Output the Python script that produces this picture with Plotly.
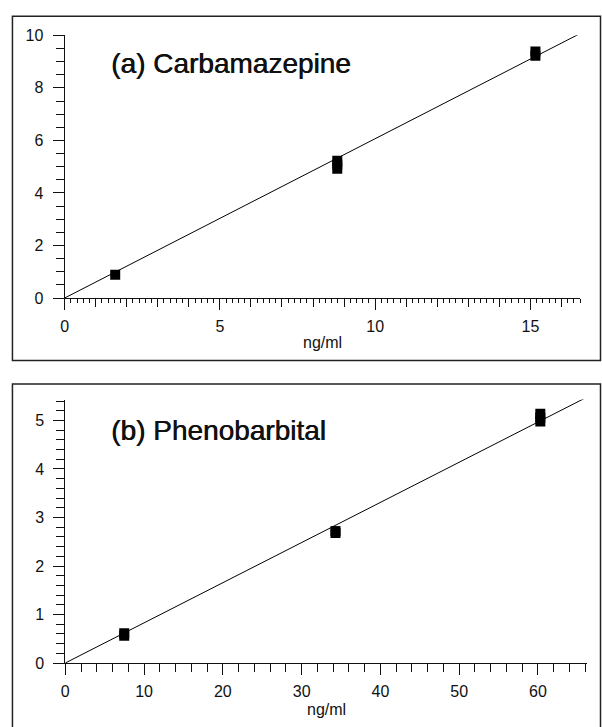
import plotly.graph_objects as go

W, H = 602, 727

# ---- data: (a) Carbamazepine ----
carb_x = [1.63, 8.78, 8.78, 8.78, 15.16, 15.16]
carb_y = [0.89, 4.92, 5.08, 5.23, 9.22, 9.39]
carb_fit_x = [0, 16.6]
carb_fit_y = [0, 10.07]

# ---- data: (b) Phenobarbital ----
phen_x = [7.48, 7.48, 34.3, 34.3, 60.3, 60.3, 60.3]
phen_y = [0.56, 0.615, 2.68, 2.72, 4.98, 5.06, 5.14]
phen_fit_x = [0, 66.2]
phen_fit_y = [0, 5.48]

titles = ["(a) Carbamazepine", "(b) Phenobarbital"]
x_label = "ng/ml"

FONT = "Liberation Sans, Arial, Helvetica, sans-serif"
INK = "#111111"


def px_x(p):
    return p / W


def px_y(p):
    return 1 - p / H


fig = go.Figure()

marker = dict(symbol="square", size=10, color="black", line=dict(width=0))
line = dict(color="black", width=1)

fig.add_trace(go.Scatter(x=carb_fit_x, y=carb_fit_y, mode="lines", line=line,
                         xaxis="x", yaxis="y", showlegend=False, hoverinfo="skip"))
fig.add_trace(go.Scatter(x=carb_x, y=carb_y, mode="markers", marker=marker,
                         xaxis="x", yaxis="y", showlegend=False))
fig.add_trace(go.Scatter(x=phen_fit_x, y=phen_fit_y, mode="lines", line=line,
                         xaxis="x2", yaxis="y2", showlegend=False, hoverinfo="skip"))
fig.add_trace(go.Scatter(x=phen_x, y=phen_y, mode="markers", marker=marker,
                         xaxis="x2", yaxis="y2", showlegend=False))
# empty trace to keep the fine-tick overlay axis alive
fig.add_trace(go.Scatter(x=[None], y=[None], mode="markers", xaxis="x3", yaxis="y",
                         showlegend=False, hoverinfo="skip"))

tickfont = dict(family=FONT, size=16, color=INK)

common_x = dict(showgrid=False, zeroline=False, showline=True, linecolor=INK, linewidth=1,
                ticks="outside", tickcolor=INK, tickwidth=1, tickfont=tickfont,
                ticklabelstandoff=3, fixedrange=True)
common_y = dict(showgrid=False, zeroline=False, showline=True, linecolor=INK, linewidth=1,
                ticks="outside", tickcolor=INK, tickwidth=1, tickfont=tickfont,
                ticklabelstandoff=6, fixedrange=True)

top_xdom = [px_x(61), px_x(580)]
top_ydom = [px_y(297), px_y(28)]
bot_xdom = [px_x(61.7), px_x(586.7)]
bot_ydom = [px_y(670.7), px_y(401)]

title_font = dict(family=FONT, size=28, color=INK, shadow="0.6px 0px 0px #111111")

fig.update_layout(
    width=W, height=H, autosize=False,
    margin=dict(l=0, r=0, t=0, b=0),
    paper_bgcolor="white", plot_bgcolor="white",
    xaxis=dict(common_x, domain=top_xdom, range=[0, 16.6], anchor="y",
               tick0=0, dtick=5, ticklen=11,
               minor=dict(dtick=1, ticklen=8, ticks="outside", tickcolor=INK, tickwidth=1)),
    xaxis3=dict(overlaying="x", anchor="y", side="bottom", range=[0, 16.6],
                showgrid=False, zeroline=False, showline=False, showticklabels=False,
                ticks="outside", tick0=0, dtick=0.2, ticklen=4, tickcolor=INK, tickwidth=1,
                fixedrange=True),
    yaxis=dict(common_y, domain=top_ydom, range=[0, 10], anchor="x",
               tick0=0, dtick=2, ticklen=11,
               minor=dict(dtick=0.5, ticklen=8, ticks="outside", tickcolor=INK, tickwidth=1)),
    xaxis2=dict(common_x, domain=bot_xdom, range=[0, 66.2], anchor="y2",
                tick0=0, dtick=10, ticklen=11,
                minor=dict(dtick=2, ticklen=8, ticks="outside", tickcolor=INK, tickwidth=1)),
    yaxis2=dict(common_y, domain=bot_ydom, range=[0, 5.43], anchor="x2",
                tick0=0, dtick=1, ticklen=11,
                minor=dict(dtick=0.2, ticklen=8, ticks="outside", tickcolor=INK, tickwidth=1)),
    shapes=[
        dict(type="rect", xref="paper", yref="paper",
             x0=px_x(8.5), x1=px_x(600.5), y0=px_y(361), y1=px_y(8.5),
             line=dict(color="#222222", width=1.5), fillcolor="rgba(0,0,0,0)", layer="below"),
        dict(type="rect", xref="paper", yref="paper",
             x0=px_x(8.5), x1=px_x(600.5), y0=px_y(740), y1=px_y(385),
             line=dict(color="#222222", width=1.5), fillcolor="rgba(0,0,0,0)", layer="below"),
    ],
    annotations=[
        dict(text=titles[0], xref="paper", yref="paper", x=px_x(106), y=px_y(56.5),
             xanchor="left", yanchor="middle", showarrow=False, font=title_font),
        dict(text=titles[1], xref="paper", yref="paper", x=px_x(106), y=px_y(432.5),
             xanchor="left", yanchor="middle", showarrow=False, font=title_font),
        dict(text=x_label, xref="paper", yref="paper", x=px_x(320.5), y=px_y(343),
             xanchor="center", yanchor="middle", showarrow=False,
             font=dict(family=FONT, size=16, color=INK)),
        dict(text=x_label, xref="paper", yref="paper", x=px_x(324.2), y=px_y(718),
             xanchor="center", yanchor="middle", showarrow=False,
             font=dict(family=FONT, size=16, color=INK)),
    ],
)

fig.write_html("out.html")
